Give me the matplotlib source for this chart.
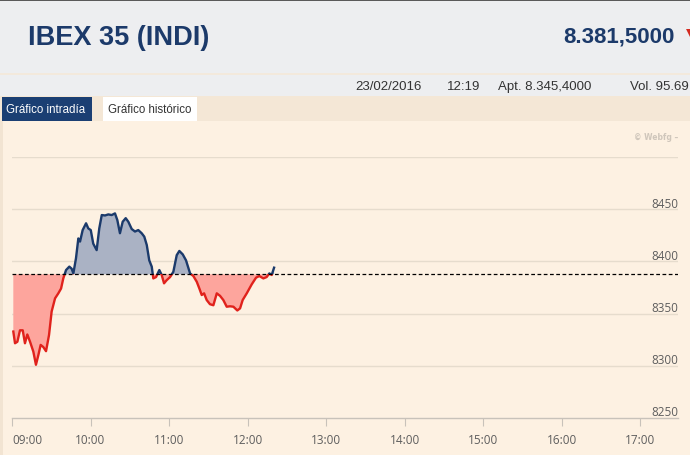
import matplotlib.pyplot as plt
from matplotlib.patches import Rectangle
import numpy as np

# datos intradía IBEX 35 (minutos desde las 09:00)
minutos = [1.0, 2.3, 4.1, 6.1, 8.2, 9.9, 11.7, 13.8, 16.3, 18.3, 20.1, 21.9, 23.9,
           26.0, 28.3, 30.3, 32.9, 35.4, 37.5, 39.2, 41.3, 43.8, 45.6, 46.9, 48.9,
           50.7, 52.0, 54.0, 56.6, 58.3, 60.2, 62.1, 64.7, 66.7, 68.6, 71.1, 73.6,
           76.2, 78.7, 80.5, 82.5, 84.6, 86.9, 88.9, 91.5, 94.0, 96.5, 99.1, 101.1,
           103.0, 104.9, 106.8, 108.0, 110.1, 112.6, 114.4, 116.2, 118.2, 120.8,
           123.3, 125.9, 127.9, 130.5, 133.0, 136.1, 138.6, 141.2, 143.2, 145.0,
           146.8, 148.8, 151.3, 153.9, 156.5, 159.0, 161.5, 164.1, 166.6, 169.2,
           172.2, 174.3, 176.3, 179.4, 183.2, 186.5, 189.0, 192.1, 194.6, 196.7,
           198.5, 200.3]
valores = [8332.8, 8321.6, 8323, 8334, 8334, 8321.6, 8330, 8323, 8313.6, 8301, 8310,
           8320, 8318, 8314, 8329.5, 8352, 8364.6, 8369.4, 8374, 8383.7, 8391.7, 8395,
           8393, 8388.5, 8403, 8422, 8419, 8430, 8436.5, 8431.6, 8430, 8417, 8410.8,
           8431.6, 8444.4, 8444, 8445, 8444.4, 8446, 8439.6, 8427, 8438, 8441.4, 8438,
           8431, 8428.6, 8430, 8427, 8423.7, 8415.7, 8401, 8395, 8383.7, 8385, 8391.7,
           8387, 8379, 8382, 8385, 8390, 8406, 8410, 8406.7, 8401, 8388.5, 8386,
           8380.5, 8374, 8367.8, 8369.4, 8363, 8359, 8358, 8369.4, 8367, 8363, 8356.6,
           8357, 8356.6, 8353, 8355, 8363, 8369.4, 8378, 8384.4, 8386, 8383.7, 8385,
           8388.5, 8387, 8394]
cierre_anterior = 8387.6
horas = ['09:00', '10:00', '11:00', '12:00', '13:00', '14:00', '15:00', '16:00', '17:00']
niveles = [8250, 8300, 8350, 8400, 8450]

W, H = 690, 456
fig = plt.figure(figsize=(W / 100, H / 100), dpi=100)
fig.patch.set_facecolor('#fdf1e2')


def caja(x0, y0, x1, y1, color):
    # rectángulo en píxeles (origen arriba a la izquierda)
    fig.add_artist(Rectangle((x0 / W, 1 - y1 / H), (x1 - x0) / W, (y1 - y0) / H,
                             transform=fig.transFigure, facecolor=color,
                             edgecolor='none', zorder=0))


def texto(x, y, s, **kw):
    fig.text(x / W, 1 - y / H, s, **kw)


# cabecera
caja(0, 0, W, 97, '#edeef0')
caja(0, 0, W, 2, '#5a5a5a')
caja(0, 74, W, 76, '#f3e9dc')
caja(0, 97, W, 122, '#f4e7d6')
caja(0, 122, 3, H, '#f2e4d2')
caja(2, 98, 92, 122, '#1b3f73')
caja(103, 98, 197, 122, '#ffffff')

azul = '#1c3a6a'
texto(28, 38, 'IBEX 35 (INDI)', family='Liberation Sans', weight='bold',
      fontsize=19.5, color=azul, va='center')
texto(675, 37, '8.381,5000', family='Liberation Sans', weight='bold', fontsize=16,
      color=azul, va='center', ha='right')
texto(686, 33, '▼', family='DejaVu Sans', fontsize=10, color='#d42a20', va='center')
info = [(355, '23/02/2016'), (447, '12:19'), (498, 'Apt. 8.345,4000'), (630, 'Vol. 95.69')]
for x, s in info:
    texto(x, 87, s, family='Liberation Sans', fontsize=9.5, color='#333333', va='center')
texto(6, 110, 'Gráfico intradía', family='Liberation Sans', fontsize=8.3,
      color='white', va='center')
texto(108, 110, 'Gráfico histórico', family='Liberation Sans', fontsize=8.3,
      color='#333333', va='center')
texto(678, 138, '© Webfg –', family='DejaVu Sans', weight='bold', fontsize=5.5,
      color='#cfc6bb', va='center', ha='right')

# gráfico
ax = fig.add_axes([12 / W, (H - 419) / H, 666 / W, 261 / H])
ax.set_facecolor('none')
ax.set_xlim(0, 509)
ax.set_ylim(8250, 8500)
for s in ['top', 'left', 'right']:
    ax.spines[s].set_visible(False)
ax.spines['bottom'].set_color('#c8c2ba')
ax.spines['bottom'].set_linewidth(1)

for v in niveles[1:] + [8500]:
    ax.axhline(v, color='#e6dccd', lw=1, zorder=1)

x = np.array(minutos)
y = np.array(valores)
ax.fill_between(x, y, cierre_anterior, where=y >= cierre_anterior, interpolate=True,
                color='#aab2c4', lw=0, zorder=2)
ax.fill_between(x, y, cierre_anterior, where=y <= cierre_anterior, interpolate=True,
                color='#fda59d', lw=0, zorder=2)

l1, = ax.plot(x, y, color='#1b3a6b', lw=1.7, zorder=4)
l1.set_clip_path(Rectangle((0, cierre_anterior), 600, 400, transform=ax.transData))
l2, = ax.plot(x, y, color='#e0221c', lw=1.7, zorder=4)
l2.set_clip_path(Rectangle((0, cierre_anterior - 400), 600, 400, transform=ax.transData))

ax.axhline(cierre_anterior, color='black', lw=0.9, ls=(0, (3, 2)), zorder=5)

ax.set_yticks([])
ax.set_xticks(np.arange(len(horas)) * 60)
ax.set_xticklabels(horas, family='Open Sans', fontsize=8.5, color='#5e5e5e')
ax.tick_params(axis='x', direction='out', length=6, color='#c8c2ba', pad=5)
ax.get_xticklabels()[0].set_horizontalalignment('left')

tr = ax.get_yaxis_transform()
for v in niveles:
    ax.text(1.0, v + 2.5, str(v), transform=tr, ha='right', va='baseline',
            family='Open Sans', fontsize=8.5, color='#5e5e5e')

fig.savefig('out.png', dpi=100, facecolor=fig.get_facecolor())
